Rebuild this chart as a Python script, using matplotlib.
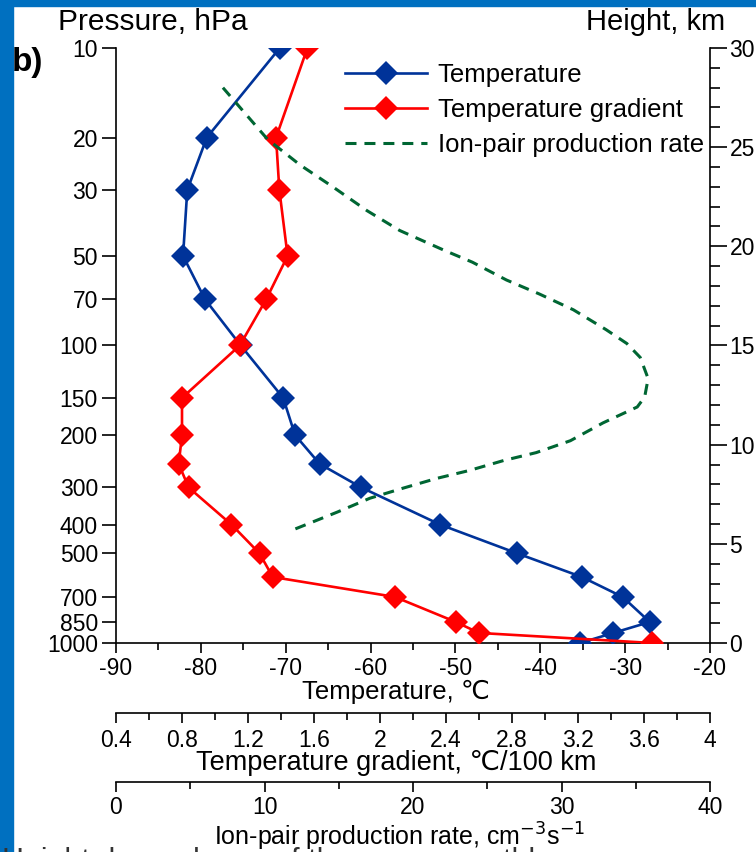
import matplotlib
matplotlib.use("Agg")
import matplotlib.pyplot as plt
from matplotlib.patches import Rectangle
from matplotlib.ticker import FixedLocator, FixedFormatter, FuncFormatter, MultipleLocator, NullFormatter, NullLocator

plt.rcParams["font.family"] = ["Liberation Sans", "DejaVu Sans"]
plt.rcParams["axes.unicode_minus"] = False

# ---- data -----------------------------------------------------------------
pressure = [10, 20, 30, 50, 70, 100, 150, 200, 250, 300, 400, 500, 600, 700, 850, 925, 1000]
temperature = [-70.7, -79.3, -81.6, -82.1, -79.5, -75.3, -70.3, -68.9, -66.0, -61.1,
               -51.8, -42.7, -35.1, -30.3, -27.1, -31.4, -35.3]
temp_gradient = [1.56, 1.37, 1.39, 1.44, 1.31, 1.15, 0.80, 0.80, 0.78, 0.84,
                 1.10, 1.27, 1.35, 2.09, 2.46, 2.60, 3.65]

ion_height = [28.0, 25.4, 24.1, 23.0, 21.8, 20.8, 19.8, 19.2, 18.3, 17.6, 16.8, 15.8,
              15.1, 14.4, 13.4, 13.2, 12.4, 11.9, 11.1, 10.2, 9.6, 9.2, 8.7, 8.3,
              7.8, 7.3, 6.6, 5.7]
ion_rate = [7.2, 10.2, 12.4, 14.6, 16.9, 19.1, 22.1, 24.0, 26.3, 28.5, 30.8, 33.0,
            34.4, 35.3, 35.8, 35.8, 35.6, 35.1, 32.8, 30.6, 28.3, 26.1, 23.8, 21.6,
            19.3, 17.1, 14.9, 11.9]

pressure_ticks = [10, 20, 30, 50, 70, 100, 150, 200, 300, 400, 500, 700, 850, 1000]

# ---- figure layout (pixel helpers) ----------------------------------------
W, H = 756, 852
fig = plt.figure(figsize=(W / 100, H / 100), dpi=100)


def fx(px):
    return px / W


def fy(py):
    return 1 - py / H


L, R, T, B = 116, 710, 48, 643
rect = [fx(L), fy(B), (R - L) / W, (B - T) / H]

BLUE = "#003399"
RED = "#ff0000"
GREEN = "#006633"
TICK_FS = 16.5
LW = 1.2

# slide frame
fig.patches.append(Rectangle((0, 0), fx(13), 1, transform=fig.transFigure,
                             color="#0070c0", zorder=0))
fig.patches.append(Rectangle((0, fy(6)), 1, 1, transform=fig.transFigure,
                             color="#0070c0", zorder=0))

# ---- temperature axes (pressure on y) --------------------------------------
ax = fig.add_axes(rect)
ax.set_yscale("log")
ax.set_ylim(1000, 10)
ax.set_xlim(-90, -20)
ax.patch.set_visible(False)
for s in ("top", "right"):
    ax.spines[s].set_visible(False)
for s in ("left", "bottom"):
    ax.spines[s].set_linewidth(LW)
ax.yaxis.set_major_locator(FixedLocator(pressure_ticks))
ax.yaxis.set_major_formatter(FixedFormatter([str(v) for v in pressure_ticks]))
ax.yaxis.set_minor_locator(NullLocator())
ax.yaxis.set_minor_formatter(NullFormatter())
ax.xaxis.set_major_locator(MultipleLocator(10))
ax.xaxis.set_minor_locator(MultipleLocator(5))
ax.tick_params(axis="y", which="major", direction="out", length=10, width=LW,
               pad=3, labelsize=TICK_FS)
ax.tick_params(axis="x", which="major", direction="out", length=7, width=LW,
               pad=3, labelsize=TICK_FS)
ax.tick_params(axis="x", which="minor", direction="out", length=5, width=LW)

l_temp, = ax.plot(temperature, pressure, color=BLUE, lw=1.9, marker="D",
                  markersize=12, markeredgewidth=0, label="Temperature", zorder=3)

# ---- temperature-gradient axis (shares pressure) ---------------------------
ax_g = ax.twiny()
ax_g.set_xlim(0.4, 4.0)
ax_g.patch.set_visible(False)
ax_g.xaxis.tick_bottom()
for s in ("top", "right", "left"):
    ax_g.spines[s].set_visible(False)
ax_g.spines["bottom"].set_position(("axes", -(713 - B) / (B - T)))
ax_g.spines["bottom"].set_linewidth(LW)
ax_g.xaxis.set_major_locator(MultipleLocator(0.4))
ax_g.xaxis.set_minor_locator(MultipleLocator(0.2))
ax_g.xaxis.set_major_formatter(FuncFormatter(lambda v, p: f"{v:g}"))
ax_g.tick_params(axis="x", which="major", direction="out", length=7, width=LW,
                 pad=4.5, labelsize=TICK_FS)
ax_g.tick_params(axis="x", which="minor", direction="out", length=5, width=LW)

l_grad, = ax_g.plot(temp_gradient, pressure, color=RED, lw=1.9, marker="D",
                    markersize=12, markeredgewidth=0, label="Temperature gradient",
                    zorder=3)

# ---- ion-pair production axis (height on y) --------------------------------
ax_q = fig.add_axes(rect)
ax_q.set_xlim(0, 40)
ax_q.set_ylim(0, 30)
ax_q.patch.set_visible(False)
for s in ("top", "left"):
    ax_q.spines[s].set_visible(False)
ax_q.spines["bottom"].set_position(("axes", -(782 - B) / (B - T)))
ax_q.spines["bottom"].set_linewidth(LW)
ax_q.spines["right"].set_linewidth(LW)
ax_q.yaxis.tick_right()
ax_q.yaxis.set_major_locator(MultipleLocator(5))
ax_q.yaxis.set_minor_locator(MultipleLocator(1))
ax_q.xaxis.set_major_locator(MultipleLocator(10))
ax_q.xaxis.set_minor_locator(MultipleLocator(5))
ax_q.tick_params(axis="y", which="major", direction="out", length=12, width=LW,
                 pad=2, labelsize=TICK_FS)
ax_q.tick_params(axis="y", which="minor", direction="out", length=7, width=LW)
ax_q.tick_params(axis="x", which="major", direction="out", length=7, width=LW,
                 pad=3, labelsize=TICK_FS)
ax_q.tick_params(axis="x", which="minor", direction="out", length=5, width=LW)

l_ion, = ax_q.plot(ion_rate, ion_height, color=GREEN, lw=2.2,
                   linestyle=(0, (3.6, 2.6)), label="Ion-pair production rate",
                   zorder=2)

# ---- legend -----------------------------------------------------------------
ax_q.legend(handles=[l_temp, l_grad, l_ion], loc="upper left",
            bbox_to_anchor=(fx(345), fy(63)), bbox_transform=fig.transFigure,
            frameon=False, fontsize=18.5, handlelength=3.2, handletextpad=0.4,
            labelspacing=0.42, borderpad=0, borderaxespad=0)

# ---- titles and labels ------------------------------------------------------
fig.text(fx(153), fy(22), "Pressure, hPa", ha="center", va="center", fontsize=21.5)
fig.text(fx(656), fy(22), "Height, km", ha="center", va="center", fontsize=21)
fig.text(fx(12), fy(62), "b)", ha="left", va="center", fontsize=24, fontweight="bold")
cx = fx(396)
fig.text(cx, fy(692), "Temperature, ℃", ha="center", va="center", fontsize=18.5)
fig.text(cx, fy(763), "Temperature gradient, ℃/100 km", ha="center", va="center",
         fontsize=19.5)
fig.text(fx(400), fy(837), "Ion-pair production rate, cm$^{-3}$s$^{-1}$", ha="center",
         va="center", fontsize=18)
fig.text(fx(2), fy(847), "Height dependence of the mean monthly", ha="left", va="top",
         fontsize=22, color="#333333")

fig.savefig("out.png", dpi=100)
